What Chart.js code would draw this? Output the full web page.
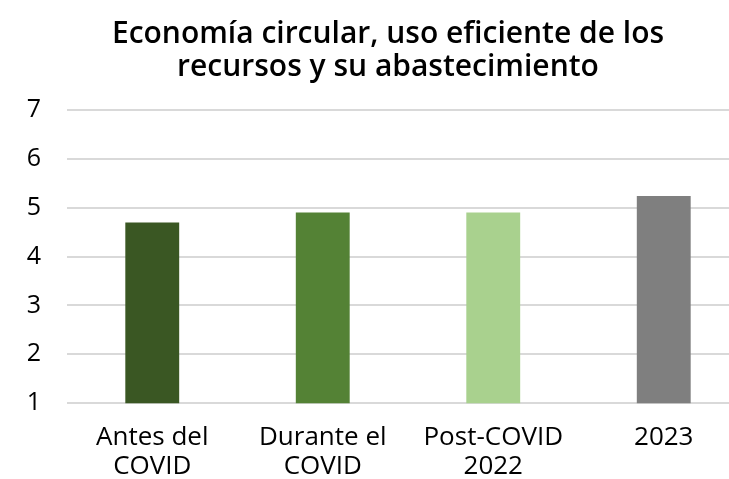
<!DOCTYPE html>
<html>
<head>
<meta charset="utf-8">
<script src="https://cdn.jsdelivr.net/npm/chart.js@4"></script>
<style>
  html, body { margin: 0; padding: 0; background: #fff; overflow: hidden; }
</style>
</head>
<body>
<canvas id="chart" width="786" height="501"></canvas>
<script>
// data
const categories = [["Antes del", "COVID"], ["Durante el", "COVID"], ["Post-COVID", "2022"], "2023"];
const values = [4.7, 4.9, 4.9, 5.24];
const barColors = ["#3a5723", "#548235", "#a9d18e", "#7f7f7f"];
const titleLines = ["Economía circular, uso eficiente de los", "recursos y su abastecimiento"];
const yMin = 1, yMax = 7;

const config = {
  type: "bar",
  data: {
    labels: categories,
    datasets: [
      {
        data: values,
        backgroundColor: barColors,
        borderWidth: 0,
        barPercentage: 0.316,
        categoryPercentage: 1,
      },
    ],
  },
  options: {
    responsive: false,
    animation: false,
    devicePixelRatio: 1,
    layout: { padding: { left: 27, right: 37, top: 18, bottom: 0 } },
    plugins: {
      legend: { display: false },
      tooltip: { enabled: false },
      title: {
        display: true,
        text: titleLines,
        color: "#000",
        font: { family: "Open Sans", size: 30, weight: "600", lineHeight: 1.1 },
        padding: { top: 0, bottom: 26 },
      },
    },
    scales: {
      x: {
        grid: { display: false, drawTicks: false },
        border: { display: false },
        ticks: {
          color: "#000",
          font: { family: "Open Sans", size: 26, lineHeight: 1.15 },
          padding: 19,
          maxRotation: 0,
          autoSkip: false,
        },
      },
      y: {
        min: yMin,
        max: yMax,
        grid: { color: "#d9d9d9", lineWidth: 2, drawTicks: false },
        border: { display: false },
        ticks: {
          stepSize: 1,
          color: "#000",
          font: { family: "Open Sans", size: 25 },
          padding: 26,
        },
        afterFit: (scale) => { scale.width = 40; },
      },
    },
  },
};

new Chart(document.getElementById("chart"), config);
</script>
</body>
</html>
